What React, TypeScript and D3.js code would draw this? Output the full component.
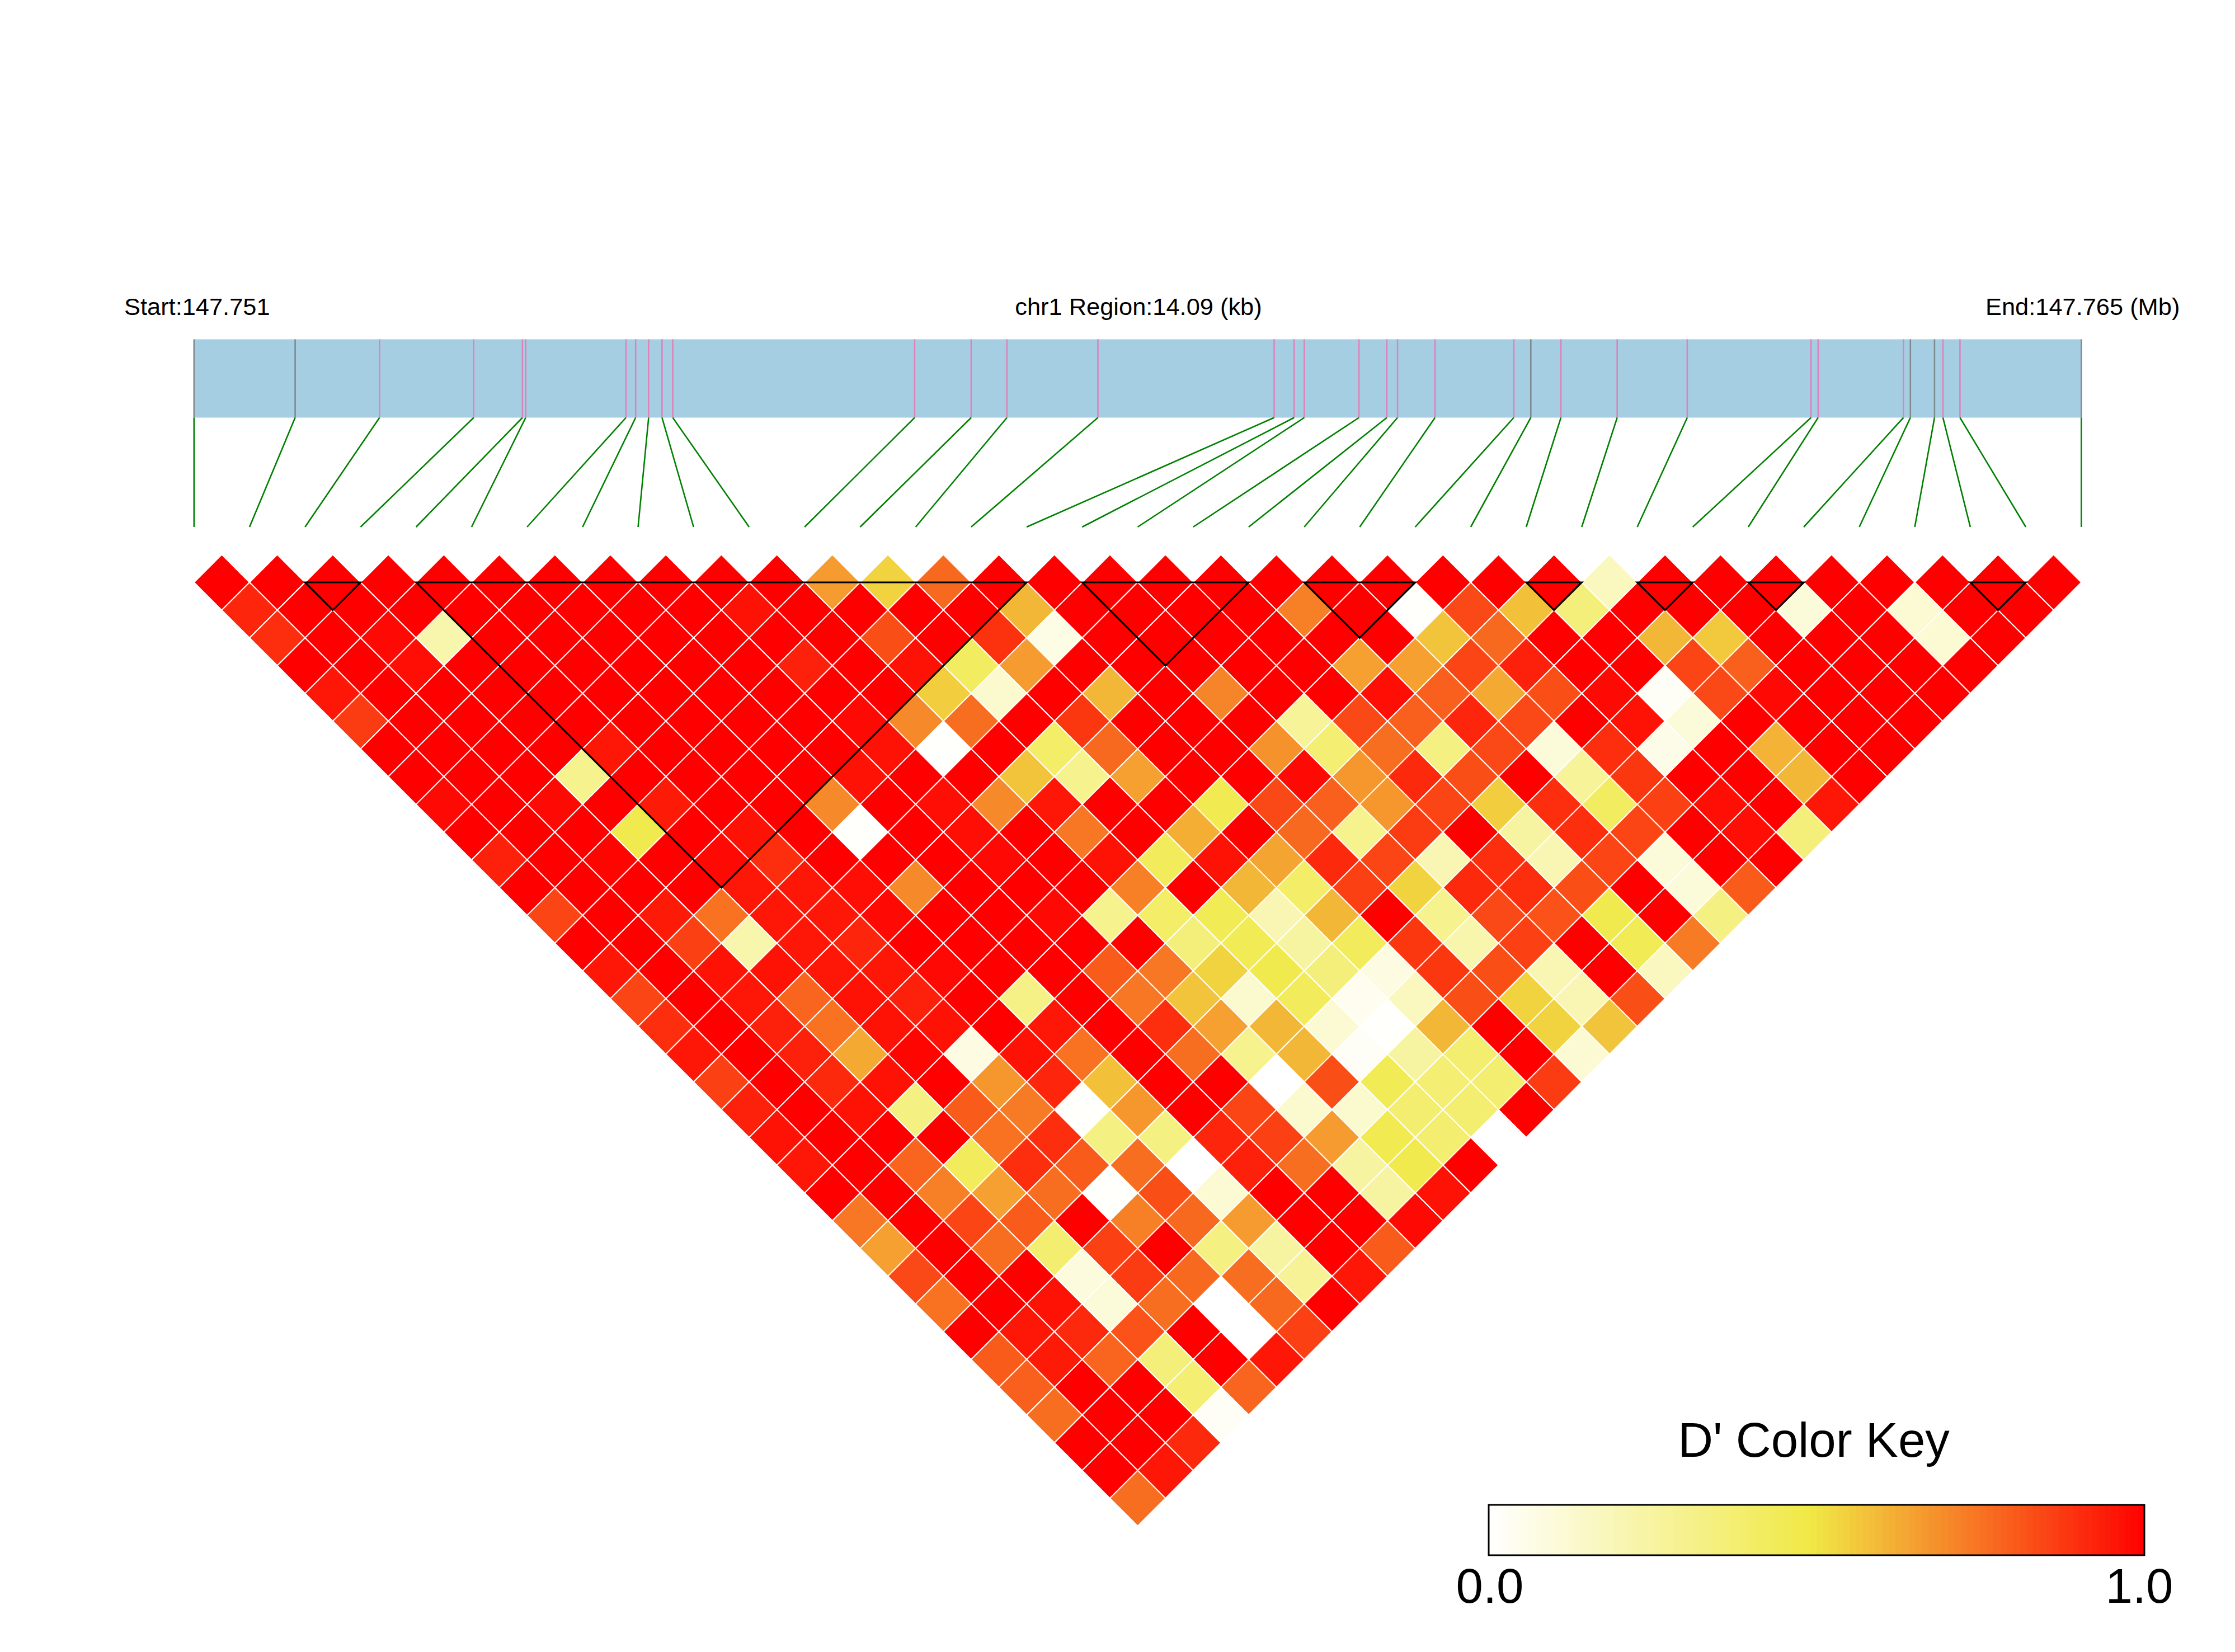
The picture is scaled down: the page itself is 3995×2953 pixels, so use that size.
import React from "react";
import * as d3 from "d3";

// SNP positions along the region, in kb from the region start
const snpKb = [0,0.755,1.385,2.088,2.452,2.476,3.225,3.297,3.394,3.494,3.574,5.38,5.802,6.069,6.748,8.064,8.213,8.289,8.697,8.905,8.985,9.265,9.853,9.98,10.205,10.625,11.148,12.072,12.125,12.762,12.814,12.994,13.057,13.184,14.09];
// SNP indices drawn grey rather than pink in the gene bar
const greySnps = [0,1,23,30,31,34];
// LD blocks: first and last SNP index
const blocks = [[2,3],[4,15],[16,19],[20,22],[24,25],[26,27],[28,29],[32,33]];

// D' by SNP distance (row 1 = neighbouring SNPs)
const row01 = [1,1,1,1,1,1,1,1,1,1,1,.66,.54,.77,1,1,1,1,1,1,1,1,1,1,1,.17,1,1,1,1,1,1,1,1];
const row02 = [.92,1,1,1,1,1,1,1,1,.96,1,1,1,1,.6,1,1,1,1,.72,1,.01,.84,.58,.35,1,1,1,.1,1,.12,1,1];
const row03 = [.9,1,.98,.22,1,1,1,1,1,1,1,.83,1,.89,.07,1,1,1,1,1,1,.57,.77,1,1,.6,.56,1,1,1,.12,1];
const row04 = [1,1,.97,1,1,1,1,1,1,.93,1,.96,.42,.66,1,1,1,1,1,.65,.65,.85,.93,1,1,.85,.79,1,1,1,1];
const row05 = [.95,1,1,1,1,1,1,1,1,1,1,.55,.13,1,.6,1,.71,1,1,.97,.79,.63,.83,.98,.02,.84,.98,1,1,1];
const row06 = [.87,1,1,1,1,1,1,1,1,.98,.7,.76,1,.88,1,1,1,.27,.84,.79,.92,.84,1,.96,.1,1,1,1,1];
const row07 = [1,1,1,1,.95,1,1,1,1,.96,.01,1,.4,.77,1,1,.68,.37,.76,.33,.84,.1,.9,.06,1,.61,1,1];
const row08 = [1,1,1,.3,1,1,1,1,.96,1,1,.57,.3,.65,1,1,.98,.67,.91,.83,1,.27,.88,1,1,.6,1];
const row09 = [.98,1,.98,1,.94,1,1,.7,1,.97,.7,.95,1,1,.46,.84,.79,.67,.85,.55,.9,.42,.86,.97,1,.95];
const row10 = [1,1,1,.47,1,.96,1,.01,1,.97,1,.74,1,.62,1,.77,.3,.87,1,.25,.9,.85,1,.97,.35];
const row11 = [.93,1,.99,1,.98,.9,1,1,1,.98,1,.96,.43,.96,.64,.91,.85,.2,.9,.2,.85,.1,1,1];
const row12 = [1,1,1,1,.95,.95,.97,.7,1,1,1,.72,1,.6,.4,.86,.54,.91,.9,.83,1,.1,.8];
const row13 = [.85,1,.94,.75,.95,.95,.98,1,1,.98,.3,.4,.45,.2,.6,1,.3,.84,.82,.47,1,.33];
const row14 = [1,1,.86,.22,.95,.92,1,1,1,1,1,.35,.45,.25,.43,.88,.22,.86,1,.45,.73];
const row15 = [.95,1,.96,.96,.95,.95,.98,1,1,.8,.74,.54,.47,.35,.08,.88,.83,.2,1,.17];
const row16 = [.85,1,.95,.78,.96,.93,1,.32,1,.74,.57,.13,.43,.04,.17,.83,.54,.2,.83];
const row17 = [.9,1,.93,.75,.96,.96,1,.95,1,.9,.65,.6,.12,.01,.6,1,.54,.57];
const row18 = [.95,1,.93,.63,.99,.08,.96,.75,1,.76,.3,.6,.02,.25,.38,1,.12];
const row19 = [.86,1,.91,.96,1,.67,.92,.58,1,1,0,.83,.45,.37,.38,.87];
const row20 = [.93,1,.96,.33,.8,.73,.01,.67,1,.85,.13,.13,.38,.38,1];
const row21 = [.96,1,1,1,.75,.9,.33,.33,.92,.86,.66,.46,.38,0];
const row22 = [.95,1,.78,.43,.9,.8,.76,0,.93,.76,.25,.47,1];
const row23 = [1,1,.72,.65,.76,.01,.83,.12,1,1,.25,.96];
const row24 = [.74,1,.85,.8,1,.72,.77,.66,1,1,.98];
const row25 = [.65,1,.76,.38,.86,1,.33,.25,1,.8];
const row26 = [.84,1,1,.09,.87,.77,.76,.28,.95];
const row27 = [.75,1,.96,.1,.76,0,.77,1];
const row28 = [1,.95,.91,.82,1,0,.86];
const row29 = [.8,.94,.78,.35,1,.95];
const row30 = [.79,1,1,.37,.78];
const row31 = [.76,1,1,.02];
const row32 = [1,1,.91];
const row33 = [1,.95];
const row34 = [.76];
const rows = [row01,row02,row03,row04,row05,row06,row07,row08,row09,row10,row11,row12,row13,row14,row15,row16,row17,row18,row19,row20,row21,row22,row23,row24,row25,row26,row27,row28,row29,row30,row31,row32,row33,row34];

const keyTicks = ["0.0", "1.0"];
const font = "'Liberation Sans', Arial, sans-serif";

const WIDTH = 3995, HEIGHT = 2953;
const X0 = 346.8, X1 = 3720.3;
const barTop = 606.5, barBottom = 746.5, linkBottom = 942;
const heatTop = 1041;

const xGene = d3.scaleLinear().domain([0, 14.09]).range([X0, X1]);
const xSnp = d3.scaleLinear().domain([0, snpKb.length - 1]).range([X0, X1]);
const cellW = xSnp(1) - xSnp(0);
// vertical distance from the heatmap's top edge for a half-SNP depth
const yDepth = d3.scaleLinear().domain([0, snpKb.length - 1]).range([heatTop, heatTop + (snpKb.length - 1) * cellW / 2]);
const colour = d3.scaleLinear<string>().domain([0, 0.49, 1]).range(["#ffffff", "#f0e946", "#ff0000"]);

function diamond(cx: number, cy: number, h: number) {
  const p = d3.path();
  p.moveTo(cx, cy - h);
  p.lineTo(cx + h, cy);
  p.lineTo(cx, cy + h);
  p.lineTo(cx - h, cy);
  p.closePath();
  return p.toString();
}

const keyX = d3.scaleLinear().domain([0, 1]).range([2661, 3833]);
const keySteps = d3.range(100);

export default function App() {
  return (
    <svg width={WIDTH} height={HEIGHT} viewBox={`0 0 ${WIDTH} ${HEIGHT}`}
      style={{ position: "absolute", left: 0, top: 0, display: "block", background: "#fff" }}
      fontFamily={font}>
      <text x={222} y={563} fontSize={43.4}>Start:147.751</text>
      <text x={2035} y={563} fontSize={43.4} textAnchor="middle">chr1 Region:14.09 (kb)</text>
      <text x={3549} y={563} fontSize={43.4}>End:147.765 (Mb)</text>

      <rect x={X0} y={barTop} width={X1 - X0} height={barBottom - barTop} fill="#a6cee3" />
      {snpKb.map((kb, i) => (
        <line key={"s" + i} x1={xGene(kb)} x2={xGene(kb)} y1={barTop} y2={barBottom}
          stroke={greySnps.includes(i) ? "#7f8a8e" : "#df82ba"} strokeWidth={2.6} />
      ))}
      {snpKb.map((kb, i) => (
        <line key={"g" + i} x1={xGene(kb)} x2={xSnp(i)} y1={barBottom} y2={linkBottom}
          stroke="#008000" strokeWidth={2.6} />
      ))}

      {rows.map((vals, r) => vals.map((v, k) => (
        <path key={r + "-" + k}
          d={diamond(xSnp(k + (r + 1) / 2), yDepth(r), cellW / 2)}
          fill={colour(v)} stroke="#ffffff" strokeWidth={2} />
      )))}

      {blocks.map(([a, b], i) => (
        <polygon key={"b" + i} fill="none" stroke="#000" strokeWidth={3.2}
          points={[[xSnp(a), heatTop], [xSnp(b), heatTop], [xSnp((a + b) / 2), yDepth(b - a)]].map(p => p.join(",")).join(" ")} />
      ))}

      <text x={3242} y={2604} fontSize={87} textAnchor="middle">D' Color Key</text>
      {keySteps.map(i => (
        <rect key={"k" + i} x={keyX(i / 100)} y={2690} width={keyX(0.01) - keyX(0) + 0.6} height={90}
          fill={colour((i + 0.5) / 100)} />
      ))}
      <rect x={2661} y={2690} width={1172} height={90} fill="none" stroke="#000" strokeWidth={3} />
      <text x={2663} y={2865} fontSize={87} textAnchor="middle">{keyTicks[0]}</text>
      <text x={3824} y={2865} fontSize={87} textAnchor="middle">{keyTicks[1]}</text>
    </svg>
  );
}
